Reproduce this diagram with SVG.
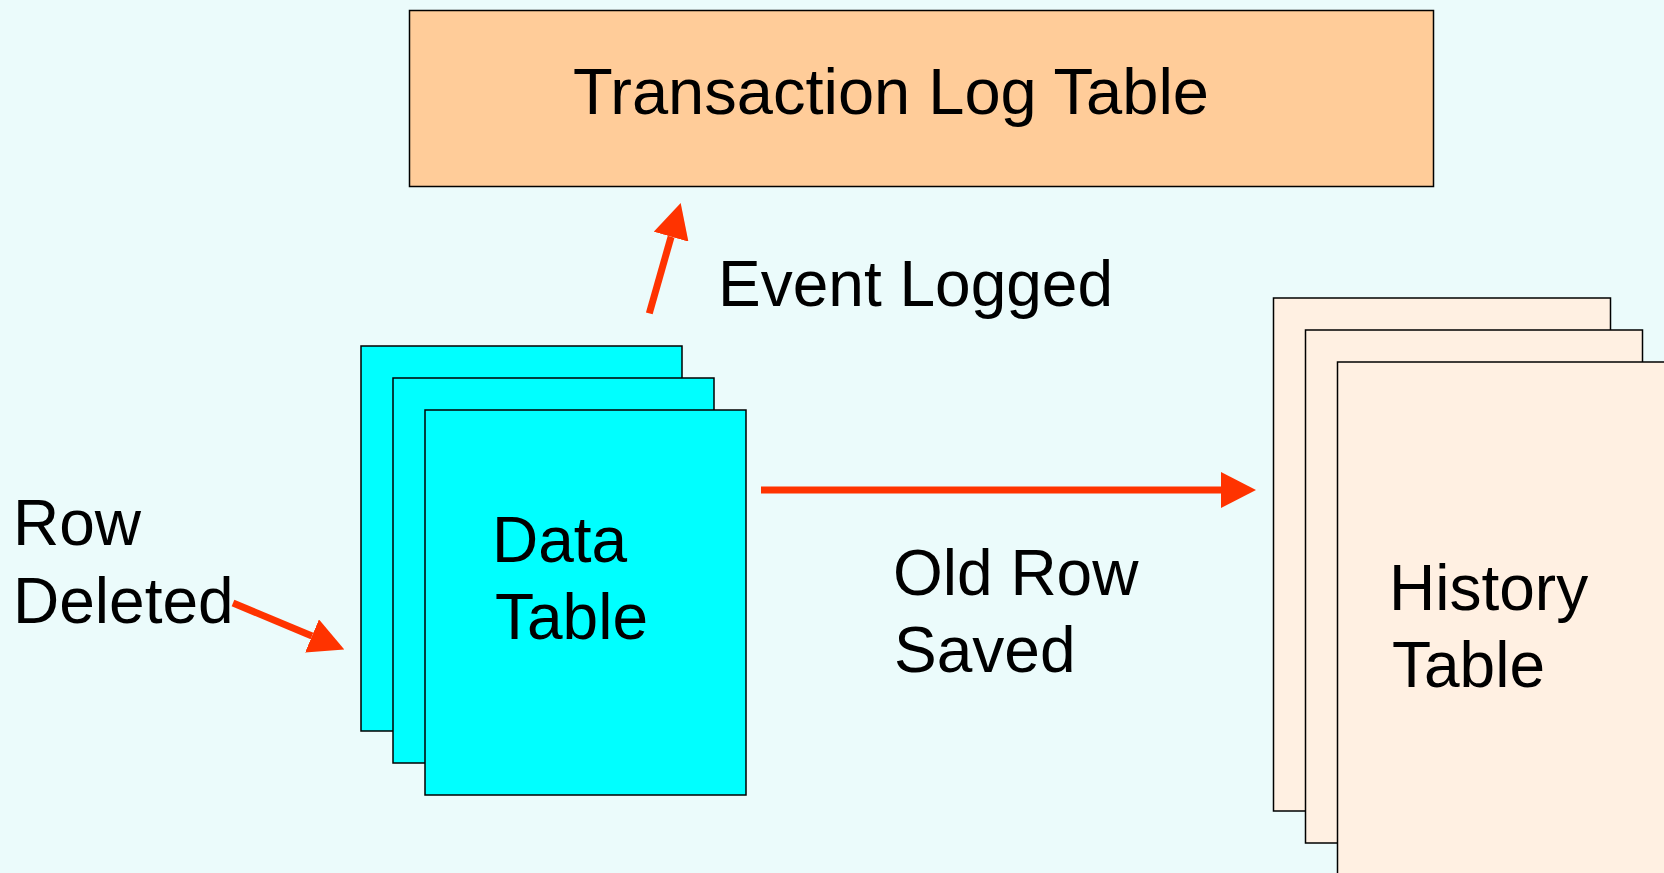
<svg xmlns="http://www.w3.org/2000/svg" width="1664" height="873" viewBox="0 0 1664 873">
<style>
  text { font-family: "Liberation Sans", Arial, sans-serif; font-size: 64px; fill: #000; }
  .data { fill: #00FFFF; stroke: #000; stroke-width: 1.5; }
  .hist { fill: #FFF0E2; stroke: #000; stroke-width: 1.5; }
  .log { fill: #FFCC99; stroke: #000; stroke-width: 1.5; }
  .conn { stroke: #FF3300; stroke-width: 7; fill: none; marker-end: url(#ah); }
</style>
<defs>
  <marker id="ah" markerUnits="userSpaceOnUse" markerWidth="35" markerHeight="36" viewBox="0 0 35 36" refX="0" refY="18" orient="auto">
    <path d="M0,0 L35,18 L0,36 z" fill="#FF3300"/>
  </marker>
</defs>
<rect x="0" y="0" width="1664" height="873" fill="#EBFBFB"/>
<g id="transaction-log-table">
  <rect class="log" x="409.5" y="10.5" width="1024" height="176"/>
  <text x="573" y="114" style="font-size:65px">Transaction Log Table</text>
</g>
<g id="data-table">
  <rect class="data" x="361" y="346" width="321" height="385"/>
  <rect class="data" x="393" y="378" width="321" height="385"/>
  <rect class="data" x="425" y="410" width="321" height="385"/>
  <text x="492" y="562">Data</text>
  <text x="495" y="639">Table</text>
</g>
<g id="history-table">
  <rect class="hist" x="1273.5" y="298" width="337" height="513"/>
  <rect class="hist" x="1305.5" y="330" width="337" height="513"/>
  <rect class="hist" x="1337.5" y="362" width="337" height="530"/>
  <text x="1389" y="610">History</text>
  <text x="1392" y="687">Table</text>
</g>
<g id="label-row-deleted">
  <text x="13" y="545">Row</text>
  <text x="13" y="623">Deleted</text>
</g>
<g id="label-event-logged">
  <text x="718" y="306">Event Logged</text>
</g>
<g id="label-old-row-saved">
  <text x="893" y="595">Old Row</text>
  <text x="894" y="672">Saved</text>
</g>
<g id="connectors">
  <line class="conn" x1="233" y1="603" x2="312" y2="636"/>
  <line class="conn" x1="649.3" y1="313.4" x2="671.1" y2="236.7"/>
  <line class="conn" x1="761" y1="490" x2="1221" y2="490"/>
</g>
</svg>
